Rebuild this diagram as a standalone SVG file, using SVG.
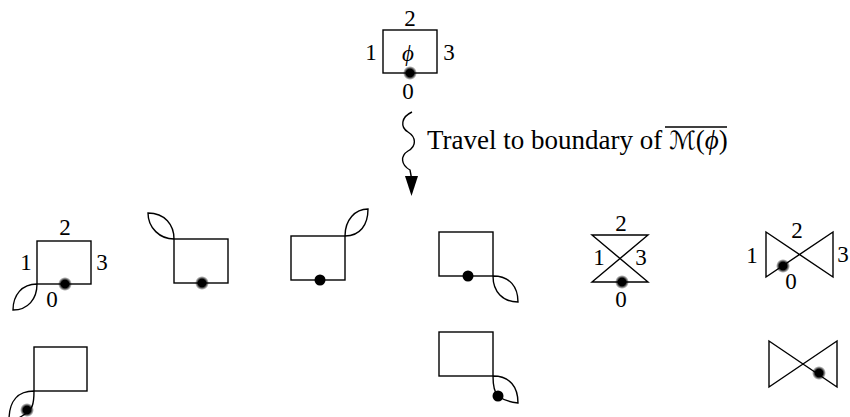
<svg xmlns="http://www.w3.org/2000/svg" width="850" height="417" viewBox="0 0 850 417">
<defs>
<radialGradient id="soft">
<stop offset="0" stop-color="#000"/>
<stop offset="0.55" stop-color="#000"/>
<stop offset="1" stop-color="#000" stop-opacity="0"/>
</radialGradient>
<style>
.ln{fill:none;stroke:#000;stroke-width:1.4;stroke-linejoin:miter}
.t{font-family:"Liberation Serif","Times New Roman",serif;font-size:23px;fill:#000;text-anchor:middle}
.lbl{font-family:"Liberation Serif","Times New Roman",serif;font-size:27px;fill:#000}
.sd{fill:url(#soft)}
.hd{fill:#000}
</style>
</defs>
<rect width="850" height="417" fill="#fff"/>

<g id="node-top">
<rect class="ln" x="383" y="30" width="54" height="43"/>
<text class="t" x="410" y="26">2</text>
<text class="t" x="371" y="60">1</text>
<text class="t" x="449" y="60">3</text>
<text class="t" x="408" y="61" font-style="italic" font-size="26">ϕ</text>
<text class="t" x="408" y="99">0</text>
<circle class="sd" cx="410" cy="73" r="7"/>
</g>

<g id="connectors">
<path class="ln" d="M412,112 C401,117 400,127 408,132 C416,137 417,146 408,151 C400,156 401,165 410,170 L411.5,178"/>
<polygon class="hd" points="405,176 418,176 411.5,196"/>
</g>

<g id="label-travel">
<text class="lbl" x="427" y="149">Travel to boundary of <tspan font-family="DejaVu Serif, DejaVu Sans, serif" font-size="25">ℳ</tspan>(<tspan font-style="italic">ϕ</tspan>)</text>
<line class="ln" x1="665" y1="127" x2="727" y2="127"/>
</g>

<g id="node-a">
<rect class="ln" x="37" y="241" width="54" height="43"/>
<path class="ln" d="M37,284 C22,284 13,295 13,310 C28,310 37,299 37,284"/>
<text class="t" x="65" y="235">2</text>
<text class="t" x="26" y="270">1</text>
<text class="t" x="102" y="270">3</text>
<text class="t" x="52" y="307">0</text>
<circle class="sd" cx="65" cy="284" r="7"/>
</g>

<g id="node-b">
<rect class="ln" x="174" y="239" width="54" height="44"/>
<path class="ln" d="M174,239 C174,225 165,213 148,213 C148,228 160,239 174,239"/>
<circle class="sd" cx="202" cy="283" r="7"/>
</g>

<g id="node-c">
<rect class="ln" x="291" y="236" width="54" height="44"/>
<path class="ln" d="M345,236 C345,220 355,209 368,209 C368,225 360,236 345,236"/>
<circle class="hd" cx="320" cy="280" r="5.5"/>
</g>

<g id="node-d">
<rect class="ln" x="439" y="232" width="54" height="44"/>
<path class="ln" d="M493,276 C510,276 518,287 518,302 C503,302 493,292 493,276"/>
<circle class="hd" cx="468" cy="276" r="5.5"/>
</g>

<g id="node-e">
<path class="ln" d="M592,235 L648,235 L592,282 L648,282 Z"/>
<text class="t" x="621" y="231">2</text>
<text class="t" x="599" y="265">1</text>
<text class="t" x="641" y="265">3</text>
<text class="t" x="621" y="307">0</text>
<circle class="sd" cx="622" cy="282" r="7"/>
</g>

<g id="node-f">
<path class="ln" d="M766,232 L833,277 L833,232 L766,277 Z"/>
<text class="t" x="752" y="263">1</text>
<text class="t" x="797" y="238">2</text>
<text class="t" x="843" y="262">3</text>
<text class="t" x="791" y="289">0</text>
<circle class="sd" cx="783" cy="266" r="7"/>
</g>

<g id="node-g">
<rect class="ln" x="34" y="347" width="53" height="44"/>
<path class="ln" d="M34,391 C18,391 9,401 9,420 M34,391 C34,404 33,410 22,416 L14,421"/>
<circle class="sd" cx="27" cy="410" r="7"/>
</g>

<g id="node-h">
<rect class="ln" x="439" y="332" width="54" height="44"/>
<path class="ln" d="M493,376 C510,376 518,387 518,403 C510,402 502,399 498,396 C494,392 493,384 493,376"/>
<circle class="hd" cx="498" cy="396" r="5.5"/>
</g>

<g id="node-i">
<path class="ln" d="M769,341 L837,387 L837,341 L769,387 Z"/>
<circle class="sd" cx="819" cy="373" r="7"/>
</g>
</svg>
